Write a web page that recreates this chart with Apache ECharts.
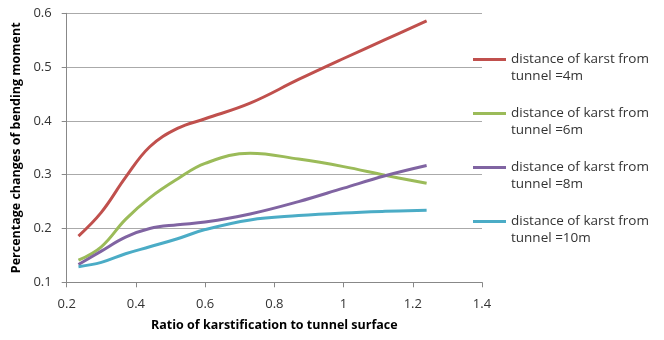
<!DOCTYPE html>
<html><head><meta charset="utf-8">
<script src="https://cdn.jsdelivr.net/npm/echarts@6/dist/echarts.min.js"></script>
<style>html,body{margin:0;padding:0;background:#fff}#c{width:664px;height:340px}</style>
</head><body><div id="c"></div>
<script>
const xValues = [0.234, 0.3, 0.37, 0.44, 0.52, 0.6, 0.73, 0.87, 1.0, 1.12, 1.24];
const seriesNames = ['distance of karst from\ntunnel =4m','distance of karst from\ntunnel =6m','distance of karst from\ntunnel =8m','distance of karst from\ntunnel =10m'];
const d4m  = [0.186, 0.230, 0.295, 0.352, 0.386, 0.404, 0.433, 0.477, 0.516, 0.551, 0.586];
const d6m  = [0.141, 0.166, 0.217, 0.257, 0.292, 0.321, 0.340, 0.329, 0.315, 0.299, 0.284];
const d8m  = [0.133, 0.158, 0.184, 0.200, 0.207, 0.212, 0.227, 0.250, 0.275, 0.298, 0.317];
const d10m = [0.129, 0.137, 0.153, 0.166, 0.181, 0.198, 0.216, 0.224, 0.229, 0.232, 0.234];
const colors = ['#C0504D','#9BBB59','#8064A2','#4BACC6'];
const allData = [d4m, d6m, d8m, d10m];
const font = 'Open Sans';
const chart = echarts.init(document.getElementById('c'));
chart.setOption({
  animation:false,
  grid:{left:66.7, right:182, top:13.3, bottom:57.7, containLabel:false},
  xAxis:{type:'value', min:0.2, max:1.4, interval:0.2,
    name:'Ratio of karstification to tunnel surface', nameLocation:'middle', nameGap:37,
    nameTextStyle:{fontFamily:font, fontSize:12.5, fontWeight:'bold', color:'#000'},
    axisLine:{lineStyle:{color:'#888'}}, axisTick:{show:true, length:5, lineStyle:{color:'#888'}},
    axisLabel:{fontFamily:font, fontSize:13, color:'#333', margin:15},
    splitLine:{show:false}},
  yAxis:{type:'value', min:0.1, max:0.6, interval:0.1,
    name:'Percentage changes of bending moment', nameLocation:'middle', nameGap:39,
    nameTextStyle:{fontFamily:font, fontSize:12.5, fontWeight:'bold', color:'#000'},
    axisLine:{show:true, lineStyle:{color:'#888'}}, axisTick:{show:true, length:5, lineStyle:{color:'#888'}},
    axisLabel:{fontFamily:font, fontSize:13, color:'#333', margin:15, formatter:v=>v.toFixed(1)},
    splitLine:{lineStyle:{color:'#aaa', width:1}}},
  legend:{orient:'vertical', left:468, top:29, itemWidth:33, itemHeight:3, itemGap:3,
    icon:'rect', formatter:n=>' \n'+n,
    textStyle:{fontFamily:font, fontSize:13.5, color:'#333', lineHeight:17},
    data:seriesNames},
  series: allData.map((d,i)=>({
    name:seriesNames[i], type:'line', smooth:0.4, symbol:'none',
    lineStyle:{width:3, color:colors[i]}, itemStyle:{color:colors[i]},
    data:xValues.map((x,j)=>[x,d[j]])
  }))
});
</script></body></html>
